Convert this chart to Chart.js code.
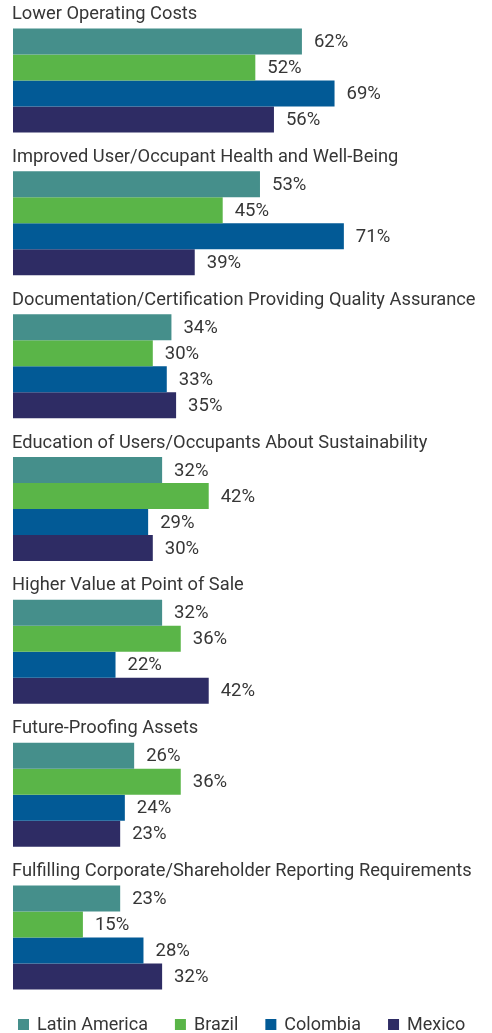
<!DOCTYPE html>
<html>
<head>
<meta charset="utf-8">
<script src="https://cdn.jsdelivr.net/npm/chart.js@4/dist/chart.umd.min.js"></script>
<style>
  html, body { margin: 0; padding: 0; background: #ffffff; }
  #wrap { width: 492px; height: 1033px; }
</style>
</head>
<body>
<div id="wrap"><canvas id="c" width="492" height="1033"></canvas></div>
<script>
// Benefits of green building, share of respondents by market
const categories = [
  'Lower Operating Costs',
  'Improved User/Occupant Health and Well-Being',
  'Documentation/Certification Providing Quality Assurance',
  'Education of Users/Occupants About Sustainability',
  'Higher Value at Point of Sale',
  'Future-Proofing Assets',
  'Fulfilling Corporate/Shareholder Reporting Requirements'
];
const seriesNames = ['Latin America', 'Brazil', 'Colombia', 'Mexico'];
const latinAmerica = [62, 53, 34, 32, 32, 26, 23];
const brazil       = [52, 45, 30, 42, 36, 36, 15];
const colombia     = [69, 71, 33, 29, 22, 24, 28];
const mexico       = [56, 39, 35, 30, 42, 23, 32];

const seriesColors = ['#458f8b', '#5ab548', '#025a96', '#2e2c64'];
const TEXT = '#363636';
const FAMILY = 'Roboto, "Noto Sans", sans-serif';
const TITLE_FONT = '18.3px ' + FAMILY;
const LABEL_FONT = '18.5px ' + FAMILY;
const KEY_FONT = '18px ' + FAMILY;

const seriesValues = [latinAmerica, brazil, colombia, mexico];

// Group headings above each block of bars
const groupTitles = {
  id: 'groupTitles',
  afterDatasetsDraw(chart) {
    const { ctx } = chart;
    const first = chart.getDatasetMeta(0).data;
    ctx.save();
    ctx.font = TITLE_FONT;
    ctx.fillStyle = TEXT;
    ctx.textAlign = 'left';
    ctx.textBaseline = 'middle';
    chart.data.labels.forEach((label, i) => {
      const bar = first[i];
      const top = bar.y - bar.height / 2;
      ctx.fillText(label, 12, top - 14);
    });
    ctx.restore();
  }
};

// Percent labels to the right of every bar
const valueLabels = {
  id: 'valueLabels',
  afterDatasetsDraw(chart) {
    const { ctx } = chart;
    ctx.save();
    ctx.font = LABEL_FONT;
    ctx.fillStyle = TEXT;
    ctx.textAlign = 'left';
    ctx.textBaseline = 'middle';
    chart.data.datasets.forEach((ds, d) => {
      chart.getDatasetMeta(d).data.forEach((bar, i) => {
        ctx.fillText(ds.data[i] + '%', bar.x + 12, bar.y + 1);
      });
    });
    ctx.restore();
  }
};

// Series key along the bottom edge
const bottomKey = {
  id: 'bottomKey',
  afterDraw(chart) {
    const { ctx } = chart;
    ctx.save();
    ctx.font = KEY_FONT;
    ctx.textAlign = 'left';
    ctx.textBaseline = 'middle';
    let x = 18;
    const cy = 1024;
    chart.data.datasets.forEach((ds) => {
      ctx.fillStyle = ds.backgroundColor;
      ctx.fillRect(x, cy - 5, 11, 11);
      ctx.fillStyle = TEXT;
      ctx.fillText(ds.label, x + 19, cy + 1);
      x += 19 + ctx.measureText(ds.label).width + 27;
    });
    ctx.restore();
  }
};

new Chart(document.getElementById('c'), {
  type: 'bar',
  data: {
    labels: categories,
    datasets: seriesNames.map((name, k) => ({
      label: name,
      data: seriesValues[k],
      backgroundColor: seriesColors[k],
      borderWidth: 0,
      categoryPercentage: 0.728,
      barPercentage: 1.0
    }))
  },
  options: {
    indexAxis: 'y',
    responsive: false,
    animation: false,
    layout: { padding: { left: 13, right: 13, top: 9, bottom: 24 } },
    scales: {
      x: { min: 0, max: 100, display: false },
      y: { type: 'category', display: false }
    },
    plugins: {
      legend: { display: false },
      tooltip: { enabled: false }
    }
  },
  plugins: [groupTitles, valueLabels, bottomKey]
});
</script>
</body>
</html>
